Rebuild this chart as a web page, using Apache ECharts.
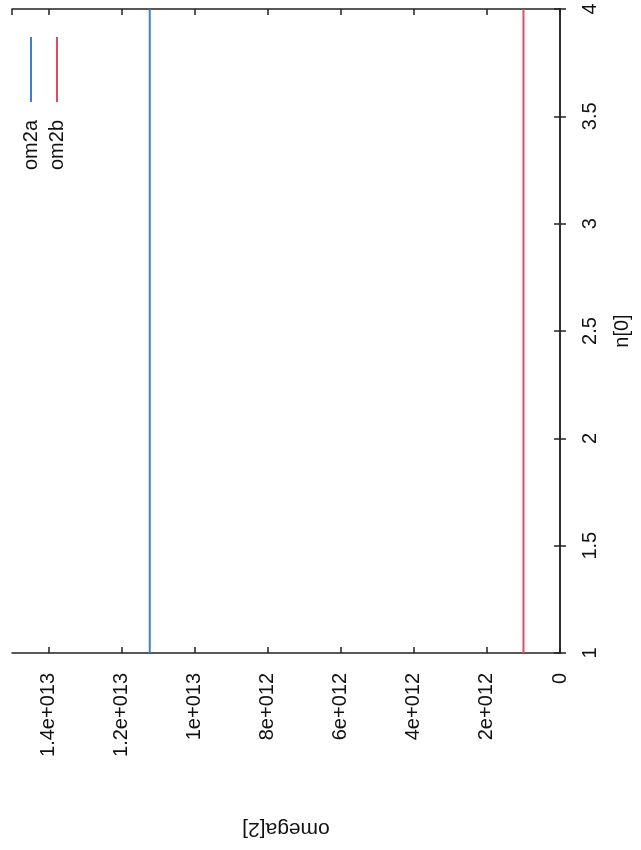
<!DOCTYPE html>
<html>
<head>
<meta charset="utf-8">
<script src="https://cdn.jsdelivr.net/npm/echarts@6/dist/echarts.min.js"></script>
<style>
  html, body { margin: 0; padding: 0; background: #ffffff; }
  #chart { width: 641px; height: 850px; }
</style>
</head>
<body>
<div id="chart"></div>
<script>
// Data (chart is shown rotated 90° counter-clockwise, like the scanned reference)
const seriesNames = ['om2a', 'om2b'];
const nValues = [1, 4];                 // n[0]
const om2a = [1.123e13, 1.123e13];      // omega[2] for om2a
const om2b = [1.0e12, 1.0e12];          // omega[2] for om2b
const seriesColors = ['#3a80d8', '#e64a5c'];

const omegaMin = 0, omegaMax = 1.5e13, omegaStep = 2e12;
const nMin = 1, nMax = 4, nStep = 0.5;

function fmtOmega(v) {
  if (v === 0) return '0';
  const e = Math.floor(Math.log10(v) + 1e-9);
  let m = Math.round(v / Math.pow(10, e) * 10) / 10;
  return String(m) + 'e+' + String(e).padStart(3, '0');
}

const FONT = 'Liberation Sans, Arial, sans-serif';
const TXT = '#111';
const FS = 20;

const chart = echarts.init(document.getElementById('chart'), null, { renderer: 'canvas' });

function pairs(xs, ys) { return xs.map((x, i) => [ys[i], x]); }

const commonTick = { show: true, inside: true, length: 6, lineStyle: { color: '#222', width: 1.5 } };
const commonLine = { show: true, lineStyle: { color: '#222', width: 1.5 } };

const option = {
  backgroundColor: '#ffffff',
  animation: false,
  grid: { left: 12, right: 81, top: 9, bottom: 197, containLabel: false },
  xAxis: [
    {
      type: 'value', position: 'bottom', inverse: true,
      min: omegaMin, max: omegaMax, interval: omegaStep,
      axisLine: commonLine, axisTick: commonTick, splitLine: { show: false },
      axisLabel: {
        rotate: 90, margin: 20, color: TXT, fontFamily: FONT, fontSize: FS,
        showMaxLabel: false, formatter: fmtOmega
      },
      name: 'omega[2]', nameLocation: 'middle', nameGap: 165, nameRotate: 180,
      nameTextStyle: { color: TXT, fontFamily: FONT, fontSize: FS + 1 }
    },
    {
      type: 'value', position: 'top', inverse: true,
      min: omegaMin, max: omegaMax, interval: omegaStep,
      axisLine: commonLine, axisTick: commonTick, splitLine: { show: false },
      axisLabel: { show: false }
    }
  ],
  yAxis: [
    {
      type: 'value', position: 'right',
      min: nMin, max: nMax, interval: nStep,
      axisLine: commonLine, axisTick: commonTick, splitLine: { show: false },
      axisLabel: { rotate: 90, margin: 20, color: TXT, fontFamily: FONT, fontSize: FS },
      name: 'n[0]', nameLocation: 'middle', nameGap: 52, nameRotate: 90,
      nameTextStyle: { color: TXT, fontFamily: FONT, fontSize: FS }
    },
    {
      type: 'value', position: 'left',
      min: nMin, max: nMax, interval: nStep,
      axisLine: commonLine, axisTick: commonTick, splitLine: { show: false },
      axisLabel: { show: false }
    }
  ],
  series: [
    {
      name: seriesNames[0], type: 'line', xAxisIndex: 0, yAxisIndex: 0,
      data: pairs(nValues, om2a), showSymbol: false,
      lineStyle: { color: seriesColors[0], width: 2 }, itemStyle: { color: seriesColors[0] }
    },
    {
      name: seriesNames[1], type: 'line', xAxisIndex: 0, yAxisIndex: 0,
      data: pairs(nValues, om2b), showSymbol: false,
      lineStyle: { color: seriesColors[1], width: 2 }, itemStyle: { color: seriesColors[1] }
    }
  ],
  graphic: [
    { type: 'line', shape: { x1: 31, y1: 37, x2: 31, y2: 102 }, style: { stroke: seriesColors[0], lineWidth: 2 } },
    { type: 'line', shape: { x1: 57, y1: 37, x2: 57, y2: 102 }, style: { stroke: seriesColors[1], lineWidth: 2 } },
    { type: 'text', x: 31, y: 120, rotation: Math.PI / 2,
      style: { text: seriesNames[0], fill: TXT, font: FS + 'px ' + FONT, align: 'right', verticalAlign: 'middle' } },
    { type: 'text', x: 57, y: 120, rotation: Math.PI / 2,
      style: { text: seriesNames[1], fill: TXT, font: FS + 'px ' + FONT, align: 'right', verticalAlign: 'middle' } }
  ]
};

chart.setOption(option);
</script>
</body>
</html>
